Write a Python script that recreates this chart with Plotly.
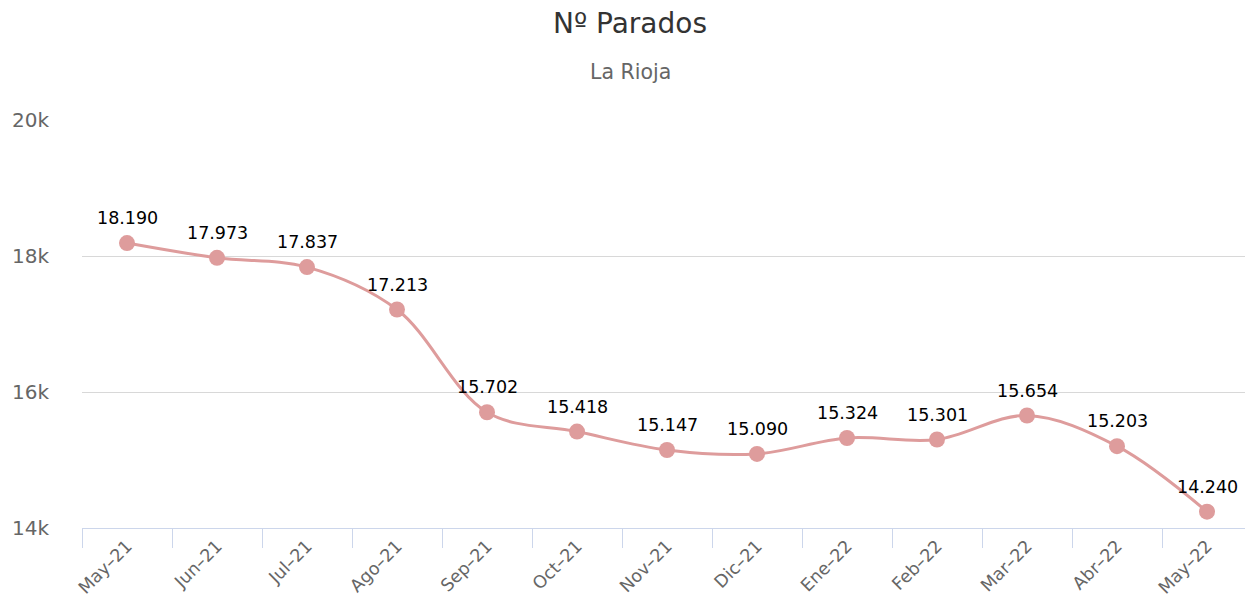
import plotly.graph_objects as go

categories = ["May–21", "Jun–21", "Jul–21", "Ago–21", "Sep–21", "Oct–21", "Nov–21",
              "Dic–21", "Ene–22", "Feb–22", "Mar–22", "Abr–22", "May–22"]
parados = [18190, 17973, 17837, 17213, 15702, 15418, 15147, 15090, 15324, 15301, 15654, 15203, 14240]
y_ticks = [14000, 16000, 18000, 20000]
y_tick_labels = ["14k", "16k", "18k", "20k"]

FONT = "DejaVu Sans"
COLOR = "#de9c9c"

fig = go.Figure()
fig.add_trace(go.Scatter(
    x=categories, y=parados, mode="lines+markers",
    line=dict(color=COLOR, width=3, shape="spline", smoothing=1.0),
    marker=dict(color=COLOR, size=16),
    hoverinfo="x+y", showlegend=False,
))

for c, v in zip(categories, parados):
    fig.add_annotation(x=c, y=v, text=f"{v:,}".replace(",", "."), showarrow=False,
                       yshift=25, font=dict(family=FONT, size=17.5, color="#000000"))

fig.add_annotation(text="La Rioja", xref="paper", yref="paper", x=(630 - 82) / 1170,
                   y=1 + (120 - 72) / 408, xanchor="center", yanchor="middle", showarrow=False,
                   font=dict(family=FONT, size=20.5, color="#666666"))

fig.update_layout(
    width=1245, height=603,
    margin=dict(l=74, r=1, t=112, b=83),
    paper_bgcolor="white", plot_bgcolor="white",
    font=dict(family=FONT, color="#666666"),
    title=dict(text="Nº Parados", x=(630 - 8) / 1245, xanchor="center", xref="container",
               y=1 - 15 / 603, yanchor="middle", yref="container",
               font=dict(family=FONT, size=28, color="#333333")),
)

fig.update_xaxes(
    type="category", range=[-0.5, 12.5], tickson="boundaries",
    ticks="outside", ticklen=19, tickcolor="#ccd6eb", tickwidth=1,
    showline=True, linecolor="#ccd6eb", linewidth=1,
    showgrid=False, zeroline=False, tickangle=-45,
    tickfont=dict(family=FONT, size=17.5, color="#666666"),
)
fig.update_yaxes(
    range=[14000, 20000], tickvals=y_ticks, ticktext=y_tick_labels,
    showgrid=True, gridcolor="#d8d8d8", gridwidth=1, zeroline=False,
    showline=False, ticks="", ticklabelstandoff=32,
    tickfont=dict(family=FONT, size=20, color="#666666"),
)

fig.write_html("out.html")
